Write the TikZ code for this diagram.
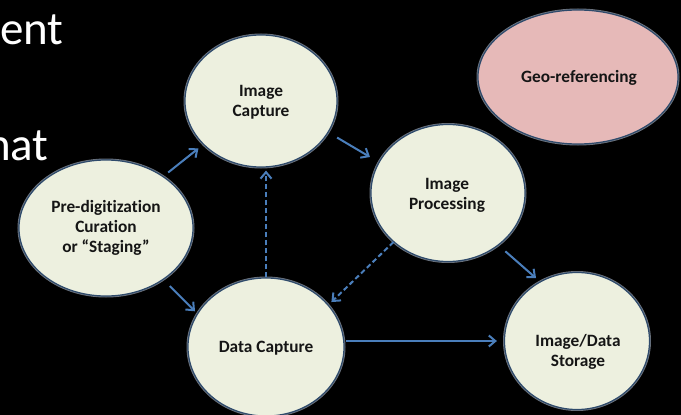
\documentclass[tikz,border=0pt]{standalone}
\usepackage{fontspec}
\setmainfont{Carlito}[Ligatures=NoCommon]
\usetikzlibrary{arrows.meta,shapes.geometric}
\definecolor{cream}{HTML}{EDF0DF}
\definecolor{pinkfill}{HTML}{E6B9B8}
\definecolor{rim}{HTML}{2E4A6B}
\definecolor{glow}{HTML}{C4D2E6}
\definecolor{arrblue}{HTML}{4A7EBB}
\definecolor{ink}{HTML}{151515}
\tikzset{
  bubble/.style={ellipse, fill=cream, draw=rim, line width=1.2pt, inner sep=0pt,
    preaction={draw=glow, line width=3pt, opacity=0.55}},
  geobubble/.style={bubble, fill=pinkfill},
  lbl/.style={font=\bfseries\fontsize{17.3}{20}\selectfont, text=ink, align=center, inner sep=0pt},
  bigtxt/.style={font=\fontsize{47}{50}\selectfont, text=white, inner sep=0pt, anchor=base west},
  flow/.style={draw=arrblue, line width=2pt, -{Straight Barb[length=6.5pt,width=11pt,line width=2pt]}},
  dflow/.style={flow, dash pattern=on 5pt off 3pt}
}
\begin{document}
\begin{tikzpicture}[x=1pt,y=-1pt]
\fill[black] (0,0) rectangle (681,415);
\useasboundingbox (0,0) rectangle (681,415);
% big slide text (cut off at the left edge, as in the reference)
\node[bigtxt] (t1) at (0,45) {ent};
\node[bigtxt] (t2) at (-14,160) {nat};
% bubbles
\node[bubble, minimum width=174pt, minimum height=136pt] (pre) at (106,228) {};
\node[lbl] (prel) at (106,228) {Pre-digitization\\Curation\\or “Staging”};
\node[bubble, minimum width=152pt, minimum height=132pt] (cap) at (261,101) {};
\node[lbl] (capl) at (261,102) {Image\\Capture};
\node[bubble, minimum width=154pt, minimum height=137pt] (proc) at (448,193) {};
\node[lbl] (procl) at (447,195) {Image\\Processing};
\node[bubble, minimum width=156pt, minimum height=138pt] (data) at (266,347) {};
\node[lbl] (datal) at (266,348) {Data Capture};
\node[bubble, minimum width=145pt, minimum height=137pt] (st) at (577,341) {};
\node[lbl] (stl) at (578,352) {Image/Data\\Storage};
\node[geobubble, minimum width=200pt, minimum height=134pt] (geo) at (578,77) {};
\node[lbl] (geol) at (579,78) {Geo-referencing};
% connectors
\draw[flow, shorten <=6pt, shorten >=6pt] (pre.42) -- (cap.217);
\draw[flow, shorten <=10pt, shorten >=10pt] (cap.-25) -- (proc.156);
\draw[flow, shorten <=9pt, shorten >=3pt] (pre.-42) -- (data.154);
\draw[dflow, shorten >=3pt] (data.north) -- (data.north |- cap.south);
\draw[dflow, shorten >=4pt] (proc.222) -- (data.34);
\draw[flow, shorten <=9pt, shorten >=5pt] (proc.-46) -- (st.122);
\draw[flow, shorten <=1pt, shorten >=7pt] (data.east |- st.west) -- (st.west);
\end{tikzpicture}
\end{document}
